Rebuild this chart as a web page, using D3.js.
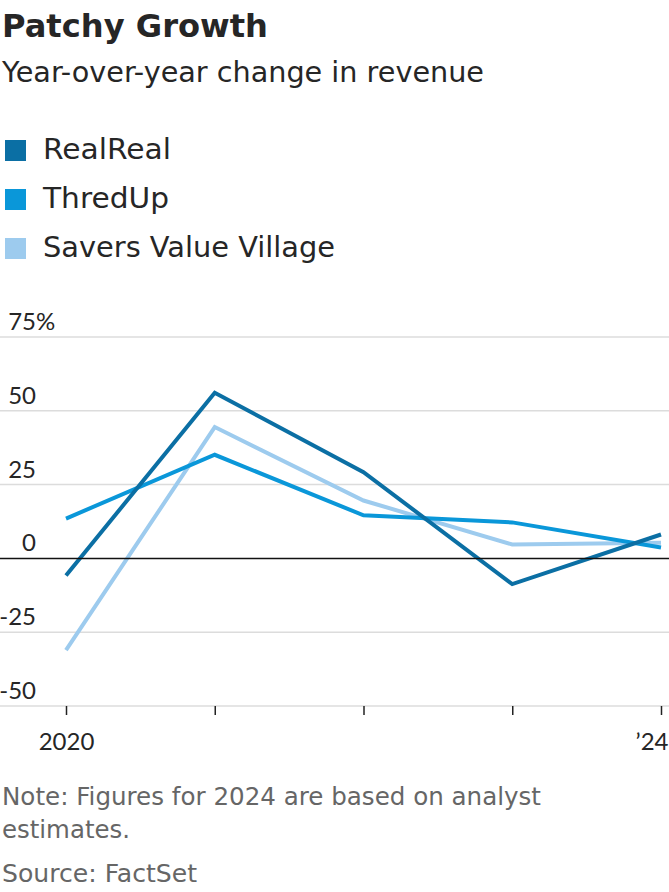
<!DOCTYPE html>
<html>
<head>
<meta charset="utf-8">
<script src="https://cdn.jsdelivr.net/npm/d3@7"></script>
<style>
  html, body { margin: 0; padding: 0; background: #fff; }
  svg { display: block; }
  text { font-family: "DejaVu Sans", "Noto Sans", sans-serif; }
  text.num { font-family: Lato, "Noto Sans", sans-serif; }
</style>
</head>
<body>
<svg id="chart" width="669" height="892"></svg>
<script>
const years = [2020, 2021, 2022, 2023, 2024];
const tickLabels = ["2020", "", "", "", "\u201924"];
const seriesNames = ["RealReal", "ThredUp", "Savers Value Village"];
const realReal = [-5.8, 56.1, 29.2, -8.7, 8.1];
const thredUp = [13.5, 35.1, 14.6, 12.2, 3.7];
const savers = [-31.1, 44.5, 19.6, 4.7, 5.3];
const yTicks = [75, 50, 25, 0, -25, -50];
const colors = ["#0b6fa4", "#0a97d9", "#9dcbee"];

const series = [realReal, thredUp, savers];
const svg = d3.select("#chart");

function fitText(sel, w) {
  sel.attr("textLength", w).attr("lengthAdjust", "spacingAndGlyphs");
  return sel;
}

// Title & subtitle
fitText(svg.append("text").attr("x", 2).attr("y", 37)
  .attr("font-size", 31.5).attr("font-weight", 700).attr("fill", "#262626")
  .text("Patchy Growth"), 266);
fitText(svg.append("text").attr("x", 2).attr("y", 82)
  .attr("font-size", 27.5).attr("fill", "#262626")
  .text("Year-over-year change in revenue"), 482);

// Legend
const legendWidths = [128, 126, 292];
const leg = svg.append("g");
seriesNames.forEach((name, i) => {
  const g = leg.append("g").attr("transform", `translate(0, ${i * 49})`);
  g.append("rect").attr("x", 5).attr("y", 140).attr("width", 21).attr("height", 21).attr("fill", colors[i]);
  fitText(g.append("text").attr("x", 43).attr("y", 158.5).attr("font-size", 28.5).attr("fill", "#262626").text(name), legendWidths[i]);
});

// Scales
const x = d3.scaleLinear().domain([2020, 2024]).range([66, 661]);
const y = d3.scaleLinear().domain([-50, 75]).range([706, 337]);

// Gridlines
svg.append("g").selectAll("line").data(yTicks.filter(d => d !== 0)).join("line")
  .attr("x1", 0).attr("x2", 669)
  .attr("y1", d => y(d)).attr("y2", d => y(d))
  .attr("stroke", "#dcdcdc").attr("stroke-width", 1.5);

// Y labels
svg.append("g").selectAll("text").data(yTicks).join("text")
  .attr("class", "num")
  .attr("x", 36).attr("y", d => y(d) - 7)
  .attr("text-anchor", "end")
  .attr("font-size", 24).attr("fill", "#262626")
  .text(d => d);
svg.append("text").attr("class", "num").attr("x", 36).attr("y", y(75) - 7)
  .attr("font-size", 24).attr("fill", "#262626").text("%");

// X axis
const xAxis = d3.axisBottom(x).tickValues(years).tickSize(9).tickFormat((d, i) => tickLabels[i]);
const gx = svg.append("g").attr("transform", `translate(0, ${y(-50)})`).call(xAxis);
gx.select(".domain").remove();
gx.selectAll(".tick line").attr("stroke", "#222").attr("stroke-width", 1.5);
gx.selectAll(".tick text").attr("class", "num").attr("font-size", 24).attr("fill", "#262626").attr("dy", 0).attr("y", 44)
  .style("font-family", "Lato, 'Noto Sans', sans-serif");
gx.selectAll(".tick text").filter((d, i) => i === 4).attr("text-anchor", "end").attr("dx", 7);

// Lines
const line = d3.line().x((d, i) => x(years[i])).y(d => y(d));
svg.append("g").selectAll("path").data(series.slice().reverse()).join("path")
  .attr("d", d => line(d))
  .attr("fill", "none")
  .attr("stroke", (d, i) => colors[2 - i])
  .attr("stroke-width", 4)
  .attr("stroke-linejoin", "miter");

// zero line
svg.append("line").attr("x1", 0).attr("x2", 669).attr("y1", y(0)).attr("y2", y(0))
  .attr("stroke", "#111").attr("stroke-width", 1.5);

// Notes
fitText(svg.append("text").attr("x", 2).attr("y", 805).attr("font-size", 24).attr("fill", "#666")
  .text("Note: Figures for 2024 are based on analyst"), 539);
fitText(svg.append("text").attr("x", 2).attr("y", 838).attr("font-size", 24).attr("fill", "#666")
  .text("estimates."), 128);
fitText(svg.append("text").attr("x", 2).attr("y", 882).attr("font-size", 24).attr("fill", "#666")
  .text("Source: FactSet"), 195);
</script>
</body>
</html>
